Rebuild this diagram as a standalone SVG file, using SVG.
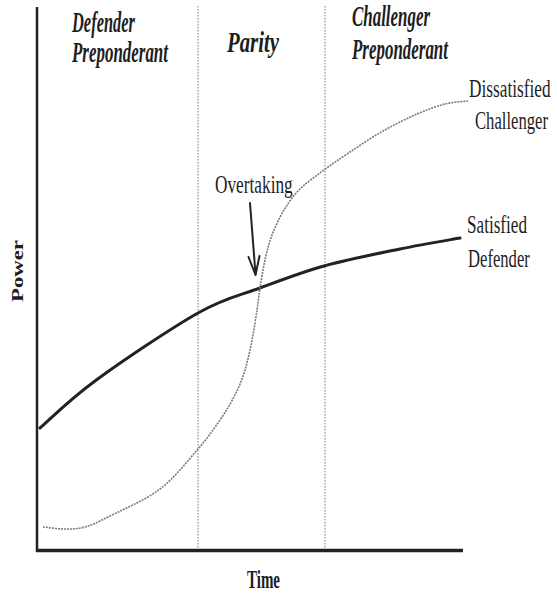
<svg xmlns="http://www.w3.org/2000/svg" width="557" height="596" viewBox="0 0 557 596">
<style>
.t{font-family:"Liberation Serif","Times New Roman",serif;fill:#1e1e1e}
.h{font-weight:bold;font-style:italic;font-size:29px}
.l{font-size:26px}
.ax{font-weight:bold}
.axis{stroke:#222;fill:none}
.div{stroke:#777;stroke-width:1;stroke-dasharray:1.5 1.5;fill:none}
</style>
<rect width="557" height="596" fill="#fff"/>
<g id="regions">
<line class="div" x1="198" y1="6" x2="198" y2="549"/>
<line class="div" x1="325" y1="6" x2="325" y2="549"/>
<text class="t h" x="72" y="32" textLength="63" lengthAdjust="spacingAndGlyphs">Defender</text>
<text class="t h" x="72" y="62" textLength="96" lengthAdjust="spacingAndGlyphs">Preponderant</text>
<text class="t h" x="227" y="52" textLength="52" lengthAdjust="spacingAndGlyphs">Parity</text>
<text class="t h" x="352" y="26" textLength="78" lengthAdjust="spacingAndGlyphs">Challenger</text>
<text class="t h" x="352" y="59" textLength="96" lengthAdjust="spacingAndGlyphs">Preponderant</text>
</g>
<g id="axes">
<line class="axis" x1="37" y1="7" x2="37" y2="552" stroke-width="2.5"/>
<line class="axis" x1="36" y1="550.5" x2="463" y2="550.5" stroke-width="3.5"/>
<text class="t ax" font-size="17" transform="translate(23,271) rotate(-90)" text-anchor="middle" textLength="62" lengthAdjust="spacingAndGlyphs">Power</text>
<text class="t ax" font-size="26" x="247" y="588" textLength="33" lengthAdjust="spacingAndGlyphs">Time</text>
</g>
<g id="connectors">
<path id="defender-curve" d="M40,428 C49.2,420.2 68.7,400.2 95,381 C121.3,361.8 170.5,328.5 198,313 C225.5,297.5 239,295.8 260,288 C281,280.2 300.7,272.5 324,266 C347.3,259.5 377.3,253.7 400,249 C422.7,244.3 450,239.8 460,238" stroke="#222" stroke-width="3" fill="none" stroke-linecap="round"/>
<path id="challenger-curve" d="M43,527 C46.5,527.3 57,529 64,529 C71,529 77.3,529.2 85,527 C92.7,524.8 97.5,522.3 110,516 C122.5,509.7 145.3,500.2 160,489 C174.7,477.8 188,460.5 198,449 C208,437.5 213.8,429 220,420 C226.2,411 230.8,403.3 235,395 C239.2,386.7 242.2,379.2 245,370 C247.8,360.8 250,350 252,340 C254,330 255.7,318.7 257,310 C258.3,301.3 258.7,296.3 260,288 C261.3,279.7 263,268.8 265,260 C267,251.2 268.8,243.3 272,235 C275.2,226.7 279.3,217.7 284,210 C288.7,202.3 293.3,195.7 300,189 C306.7,182.3 315.7,176.2 324,170 C332.3,163.8 340.2,158.5 350,152 C359.8,145.5 371.8,137.3 383,131 C394.2,124.7 406.7,118.5 417,114 C427.3,109.5 436.5,106.2 445,104 C453.5,101.8 464.2,101.5 468,101" stroke="#7a7a7a" stroke-width="1.6" stroke-dasharray="2 1" fill="none"/>
<g id="overtaking-arrow" stroke="#222" stroke-width="2" fill="none" stroke-linecap="round" stroke-linejoin="round">
<line x1="250" y1="203" x2="255.5" y2="274"/>
<polyline points="248.5,257 255.5,275 259.5,256"/>
</g>
</g>
<g id="labels">
<text class="t l" transform="translate(469,97) scale(0.665,1)">Dissatisfied</text>
<text class="t l" transform="translate(475,129) scale(0.64,1)">Challenger</text>
<text class="t l" transform="translate(467,233) scale(0.66,1)">Satisfied</text>
<text class="t l" transform="translate(468,267) scale(0.64,1)">Defender</text>
<text class="t l" font-size="24" transform="translate(215,193) scale(0.665,1)">Overtaking</text>
</g>
</svg>
